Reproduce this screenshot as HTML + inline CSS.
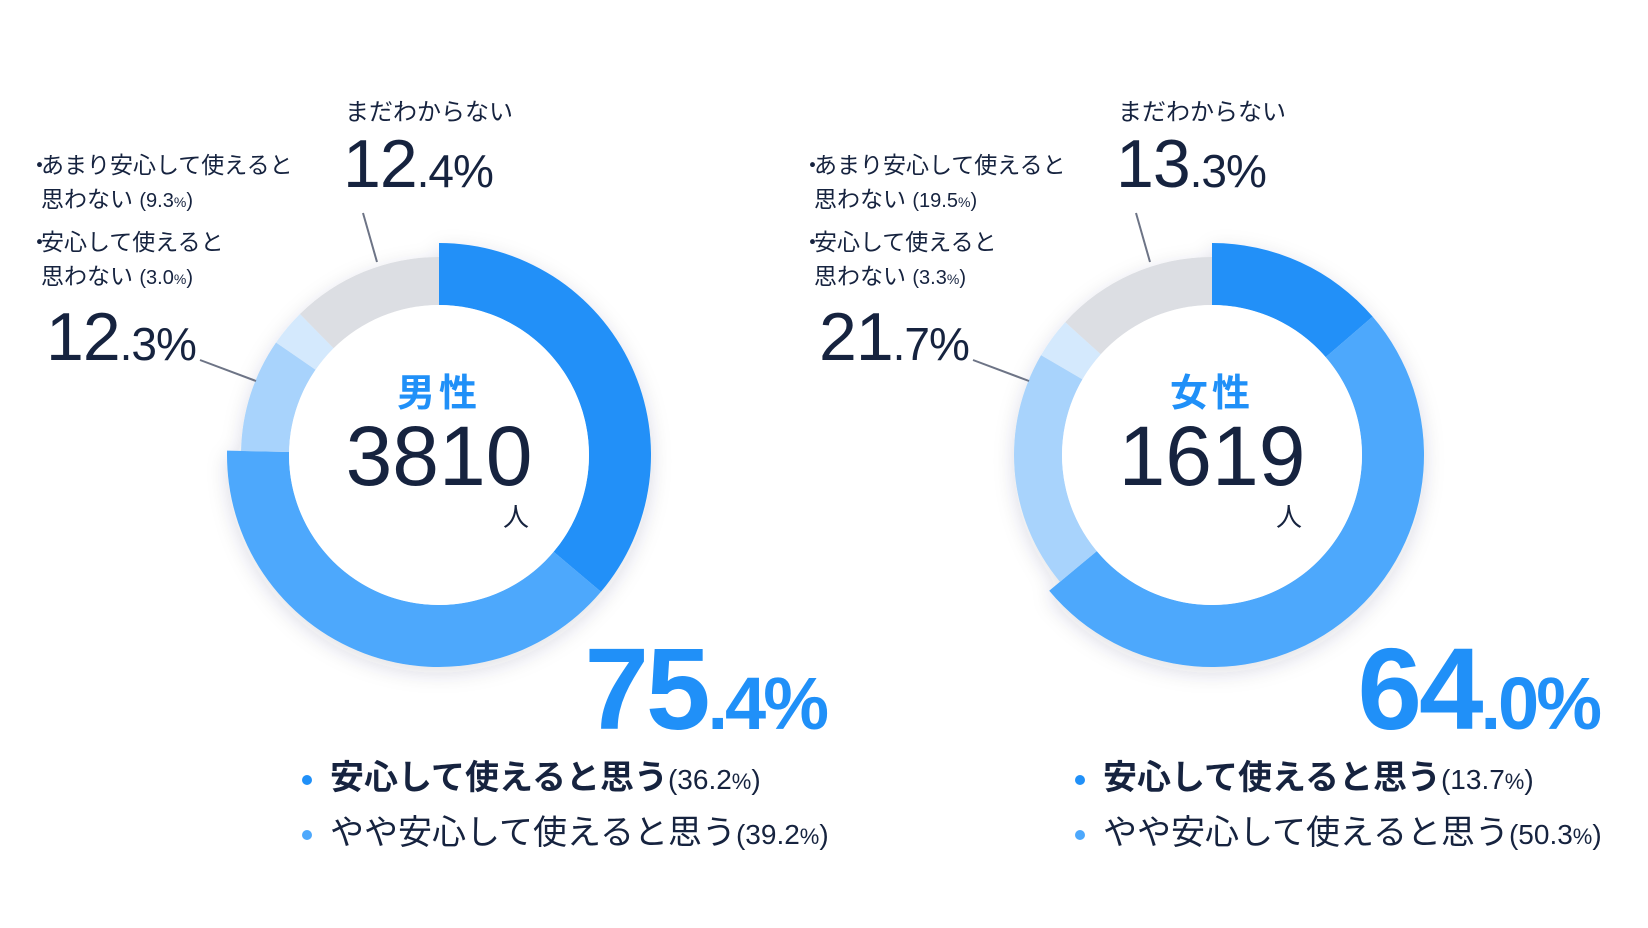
<!DOCTYPE html>
<html><head><meta charset="utf-8">
<style>
html,body{margin:0;padding:0;background:#fff;}
body{width:1648px;height:928px;overflow:hidden;position:relative;font-family:"Liberation Sans","Noto Sans CJK JP",sans-serif;color:#16233f;}
.t{position:absolute;white-space:nowrap;}
.cat{font-size:24px;}
.big{font-size:68px;letter-spacing:-1px;}
.big small{font-size:46px;}
.bl{font-size:23px;line-height:34px;}
.bl .dot{display:inline-block;width:13px;}
.bl .pct{font-size:20px;}
.bl .pct small{font-size:14px;}
.hero{font-size:116px;font-weight:bold;color:#2090f8;letter-spacing:-3px;text-align:right;}
.hero small{font-size:74px;}
.leg{font-size:34px;}
.leg b{font-weight:bold;}
.leg .pct{font-size:28px;font-weight:normal;}
.leg .pct small{font-size:22px;}
.leg .d{display:inline-block;width:10px;height:10px;border-radius:50%;margin-right:18px;vertical-align:middle;}
.ctr{position:absolute;text-align:center;}
</style></head><body>
<svg id="chart" width="1648" height="928" style="position:absolute;left:0;top:0">
<defs><filter id="sh" x="-20%" y="-20%" width="140%" height="140%"><feDropShadow dx="0" dy="6" stdDeviation="10" flood-color="#203050" flood-opacity="0.15"/></filter></defs>
<line x1="363" y1="213" x2="377" y2="262" stroke="#6d7486" stroke-width="2"/>
<line x1="200" y1="360" x2="256" y2="381" stroke="#6d7486" stroke-width="2"/>
<line x1="1136" y1="213" x2="1150" y2="262" stroke="#6d7486" stroke-width="2"/>
<line x1="973" y1="360" x2="1029" y2="381" stroke="#6d7486" stroke-width="2"/>
</svg>

<!-- Male -->
<div class="t cat" style="left:345px;top:92px">まだわからない</div>
<div class="t big" style="left:343px;top:125px">12<small>.4%</small></div>
<div class="t bl" style="left:28px;top:148px"><span class="dot">・</span>あまり安心して使えると<br><span class="dot"></span>思わない <span class="pct">(9.3<small>%</small>)</span></div>
<div class="t bl" style="left:28px;top:225px"><span class="dot">・</span>安心して使えると<br><span class="dot"></span>思わない <span class="pct">(3.0<small>%</small>)</span></div>
<div class="t big" style="left:46px;top:298px">12<small>.3%</small></div>
<div class="ctr" style="left:339px;top:362px;width:200px;font-size:38px;font-weight:bold;color:#2090f8;letter-spacing:4px">男性</div>
<div class="ctr" style="left:289px;top:408px;width:300px;font-size:84px;">3810</div>
<div class="t" style="left:503px;top:497px;font-size:26px">人</div>
<div class="t hero" style="right:822px;top:622px">75<small>.4%</small></div>
<div class="t leg" style="left:302px;top:750px"><span class="d" style="background:#2090f8"></span><b>安心して使えると思う</b><span class="pct">(36.2<small>%</small>)</span></div>
<div class="t leg" style="left:302px;top:805px"><span class="d" style="background:#4da8fc"></span>やや安心して使えると思う<span class="pct">(39.2<small>%</small>)</span></div>

<!-- Female -->
<div class="t cat" style="left:1118px;top:92px">まだわからない</div>
<div class="t big" style="left:1116px;top:125px">13<small>.3%</small></div>
<div class="t bl" style="left:801px;top:148px"><span class="dot">・</span>あまり安心して使えると<br><span class="dot"></span>思わない <span class="pct">(19.5<small>%</small>)</span></div>
<div class="t bl" style="left:801px;top:225px"><span class="dot">・</span>安心して使えると<br><span class="dot"></span>思わない <span class="pct">(3.3<small>%</small>)</span></div>
<div class="t big" style="left:819px;top:298px">21<small>.7%</small></div>
<div class="ctr" style="left:1112px;top:362px;width:200px;font-size:38px;font-weight:bold;color:#2090f8;letter-spacing:4px">女性</div>
<div class="ctr" style="left:1062px;top:408px;width:300px;font-size:84px;">1619</div>
<div class="t" style="left:1276px;top:497px;font-size:26px">人</div>
<div class="t hero" style="right:49px;top:622px">64<small>.0%</small></div>
<div class="t leg" style="left:1075px;top:750px"><span class="d" style="background:#2090f8"></span><b>安心して使えると思う</b><span class="pct">(13.7<small>%</small>)</span></div>
<div class="t leg" style="left:1075px;top:805px"><span class="d" style="background:#4da8fc"></span>やや安心して使えると思う<span class="pct">(50.3<small>%</small>)</span></div>

<script>
const categories = ["positive","somewhat-positive","not-really","not","unknown"];
const maleValues = [36.2, 39.2, 9.3, 3.0, 12.4];
const femaleValues = [13.7, 50.3, 19.5, 3.3, 13.3];
const colors = ["#2090f8","#4da8fc","#a8d3fc","#d4e9fd","#dcdee3"];
const outerR = [212,212,198,198,198];
const innerR = 150;
const svg = document.getElementById('chart');
const NS = 'http://www.w3.org/2000/svg';
function angle(v,total){return v/total*2*Math.PI;}
function pt(cx,cy,r,a){return [cx+r*Math.sin(a), cy-r*Math.cos(a)];}
function drawDonut(values, cx, cy, label){
  const total = values.reduce((a,b)=>a+b,0);
  const g = document.createElementNS(NS,'g');
  
  
  g.setAttribute('filter','url(#sh)');
  let acc = 0;
  values.forEach((v,i)=>{
    const a0 = angle(acc,total), a1 = angle(acc+v,total);
    acc += v;
    const R = outerR[i];
    const p0 = pt(cx,cy,R,a0), p1 = pt(cx,cy,R,a1), q1 = pt(cx,cy,innerR,a1), q0 = pt(cx,cy,innerR,a0);
    const large = (a1-a0) > Math.PI ? 1 : 0;
    const d = `M${p0[0]},${p0[1]} A${R},${R} 0 ${large} 1 ${p1[0]},${p1[1]} L${q1[0]},${q1[1]} A${innerR},${innerR} 0 ${large} 0 ${q0[0]},${q0[1]} Z`;
    const path = document.createElementNS(NS,'path');
    path.setAttribute('d', d);
    path.setAttribute('fill', colors[i]);
    
    
    g.appendChild(path);
  });
  const c = document.createElementNS(NS,'circle');
  c.setAttribute('cx',cx); c.setAttribute('cy',cy); c.setAttribute('r',innerR); c.setAttribute('fill','#fff');
  
  
  svg.insertBefore(g, svg.firstChild.nextSibling);
  svg.appendChild(c);
}
drawDonut(maleValues, 439, 455, 'male');
drawDonut(femaleValues, 1212, 455, 'female');
</script>
</body></html>
